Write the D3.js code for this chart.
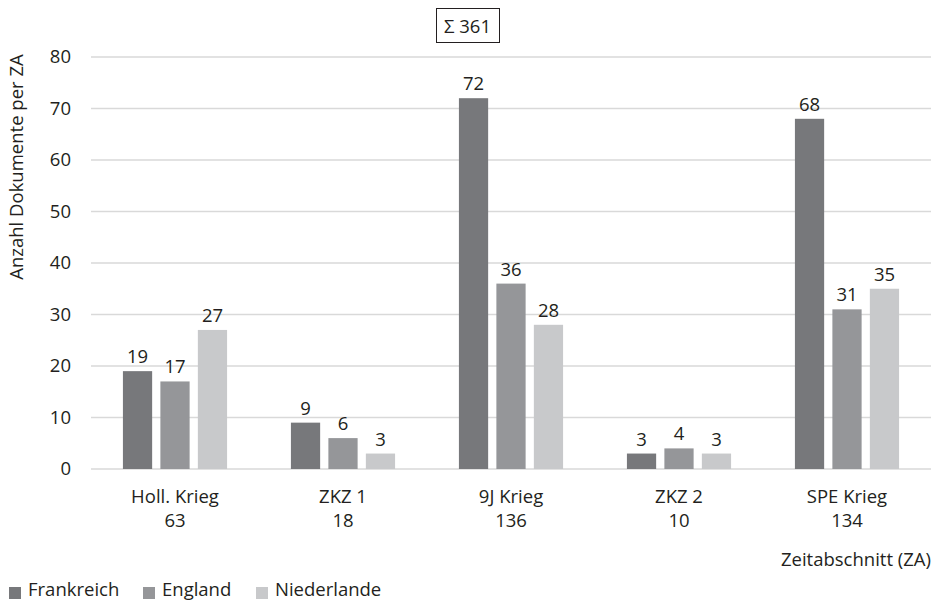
<!DOCTYPE html>
<html><head><meta charset="utf-8">
<script src="https://cdn.jsdelivr.net/npm/d3@7"></script>
<style>
body{margin:0;background:#fff;}
text{font-family:"Open Sans","Noto Sans",sans-serif;fill:#231f20;}
</style></head>
<body><svg id="chart" width="938" height="602"></svg>
<script>
const categories = ["Holl. Krieg","ZKZ 1","9J Krieg","ZKZ 2","SPE Krieg"];
const totals = [63,18,136,10,134];
const seriesNames = ["Frankreich","England","Niederlande"];
const frankreich = [19,9,72,3,68];
const england = [17,6,36,4,31];
const niederlande = [27,3,28,3,35];
const yTicks = [0,10,20,30,40,50,60,70,80];
const sumLabel = "Σ 361";
const colors = ["#77787b","#959699","#c8c9cb"];

const FS = 18.5;
const series = [frankreich, england, niederlande];
const svg = d3.select("#chart");
const m = {l:91, r:931, t:57, b:469};
const x = d3.scaleBand().domain(categories).range([m.l, m.r]).paddingInner(0.38).paddingOuter(0.19);
const xs = d3.scaleBand().domain(seriesNames).range([0, x.bandwidth()]).paddingInner(0.22);
const y = d3.scaleLinear().domain([0,80]).range([m.b, m.t]);

// gridlines
svg.append("g").selectAll("line").data(yTicks).join("line")
  .attr("x1", m.l).attr("x2", m.r)
  .attr("y1", d=>y(d)).attr("y2", d=>y(d))
  .attr("stroke", "#d9d9d9").attr("stroke-width", 1.5);

// y tick labels
svg.append("g").selectAll("text").data(yTicks).join("text")
  .attr("x", 71).attr("y", d=>y(d)).attr("dy","0.35em")
  .attr("text-anchor","end").attr("font-size",FS).text(d=>d);

// bars
seriesNames.forEach((s,i)=>{
  const g = svg.append("g");
  g.selectAll("rect").data(categories).join("rect")
    .attr("x", c=>x(c)+xs(s)).attr("width", xs.bandwidth())
    .attr("y", (c,j)=>y(series[i][j])).attr("height",(c,j)=>y(0)-y(series[i][j]))
    .attr("fill", colors[i]);
  g.selectAll("text").data(categories).join("text")
    .attr("x", c=>x(c)+xs(s)+xs.bandwidth()/2)
    .attr("y", (c,j)=>y(series[i][j])-8)
    .attr("text-anchor","middle").attr("font-size",FS)
    .text((c,j)=>series[i][j]);
});

// category labels
const cl = svg.append("g").selectAll("text").data(categories).join("text")
  .attr("x", c=>x(c)+x.bandwidth()/2).attr("text-anchor","middle").attr("font-size",FS);
cl.append("tspan").attr("x", c=>x(c)+x.bandwidth()/2).attr("y", 503).text(c=>c);
cl.append("tspan").attr("x", c=>x(c)+x.bandwidth()/2).attr("y", 527).text((c,j)=>totals[j]);

// axis titles
svg.append("text").attr("transform","translate(23,167) rotate(-90)")
  .attr("text-anchor","middle").attr("font-size",FS).text("Anzahl Dokumente per ZA");
svg.append("text").attr("x", 931).attr("y", 566).attr("text-anchor","end")
  .attr("font-size",FS).text("Zeitabschnitt (ZA)");

// sum box
svg.append("rect").attr("x",436.5).attr("y",8.5).attr("width",63).attr("height",34)
  .attr("fill","none").attr("stroke","#231f20").attr("stroke-width",1);
svg.append("text").attr("x",467.5).attr("y",33).attr("text-anchor","middle")
  .attr("font-size",FS).text(sumLabel);

// legend
const legX = [9,143,256];
const lg = svg.append("g");
seriesNames.forEach((s,i)=>{
  lg.append("rect").attr("x",legX[i]).attr("y",587).attr("width",12).attr("height",12).attr("fill",colors[i]);
  lg.append("text").attr("x",legX[i]+19).attr("y",596).attr("font-size",FS).text(s);
});
</script></body></html>
